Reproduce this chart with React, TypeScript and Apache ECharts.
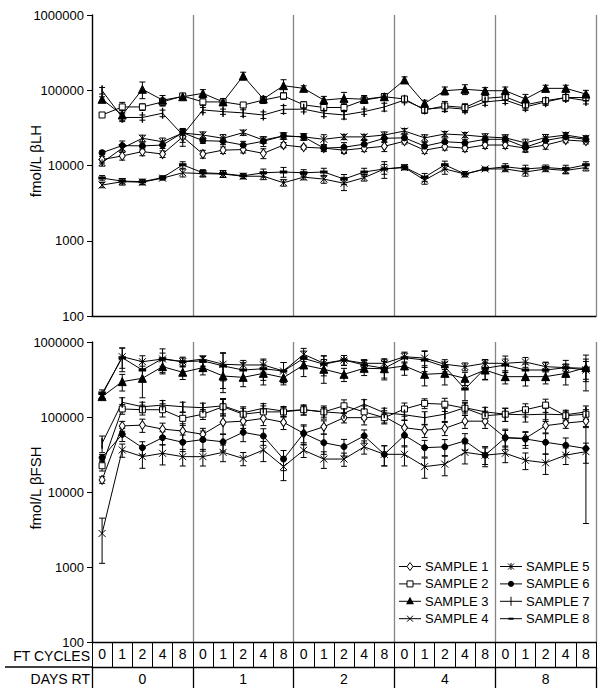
import React, { useEffect, useRef } from "react";
import * as echarts from "echarts";

// ---------- data ----------
const DAYS_RT = ["0", "1", "2", "4", "8"];
const FT_CYCLES = ["0", "1", "2", "4", "8"];
const SAMPLES = ["SAMPLE 1", "SAMPLE 2", "SAMPLE 3", "SAMPLE 4", "SAMPLE 5", "SAMPLE 6", "SAMPLE 7", "SAMPLE 8"];
const Y_TICKS = [100, 1000, 10000, 100000, 1000000];
const Y_TITLES = ["fmol/L βLH", "fmol/L βFSH"];

// fmol/L beta-LH (top panel), 25 points per sample (5 days RT x 5 FT cycles)
const LH_S1 = [12000, 13400, 15300, 14200, 24000, 14200, 16000, 16300, 14500, 18700, 17500, 17000, 16000, 17000, 18000, 21000, 16000, 17800, 17000, 18700, 18700, 17000, 18700, 21800, 21000];
const LH_S2 = [46900, 60000, 60000, 70000, 84000, 70000, 70000, 63700, 74000, 84000, 64000, 59000, 59000, 74000, 82000, 76600, 54700, 61800, 59000, 78000, 82000, 64000, 72600, 80000, 80000];
const LH_S3 = [75800, 46900, 103000, 74000, 82000, 91000, 70000, 155000, 76600, 115000, 106000, 74000, 78000, 76000, 82000, 137000, 67000, 98600, 103000, 98600, 98600, 76600, 106000, 106000, 89000];
const LH_S4 = [5500, 6100, 6000, 6800, 8000, 7800, 7700, 7200, 7200, 5900, 7000, 6600, 5800, 6900, 9000, 9400, 6400, 9000, 7700, 9000, 9000, 8200, 9000, 8600, 9400];
const LH_S5 = [10900, 17000, 23000, 20700, 27000, 25400, 23000, 27300, 21800, 24700, 24000, 22300, 24000, 24000, 25400, 28700, 23300, 26200, 25400, 24000, 23300, 20000, 23500, 25400, 23000];
const LH_S6 = [14800, 18400, 18200, 18700, 27300, 21400, 21000, 18700, 21000, 24700, 24000, 17000, 17500, 19200, 23000, 23300, 18100, 20700, 20000, 22300, 22300, 17500, 21500, 24000, 22300];
const LH_S7 = [99000, 43500, 43500, 49500, 25400, 54700, 52000, 50000, 46900, 55900, 56000, 49500, 47000, 52000, 60000, 74000, 56000, 59000, 56000, 70000, 74000, 60000, 70000, 80000, 73000];
const LH_S8 = [6800, 6200, 6100, 6900, 10200, 8000, 7800, 7300, 8000, 8200, 8000, 8200, 6600, 8200, 9000, 9500, 7000, 10200, 7700, 9000, 9600, 9000, 9400, 9000, 10200];

// relative error (SD / mean), top panel
const LH_E1 = [0.1, 0.12, 0.12, 0.1, 0.25, 0.12, 0.1, 0.1, 0.15, 0.08, 0.06, 0.08, 0.1, 0.1, 0.15, 0.08, 0.1, 0.1, 0.1, 0.1, 0.1, 0.12, 0.12, 0.08, 0.08];
const LH_E2 = [0.05, 0.15, 0.1, 0.12, 0.08, 0.1, 0.1, 0.08, 0.1, 0.1, 0.1, 0.1, 0.12, 0.1, 0.1, 0.08, 0.1, 0.15, 0.12, 0.1, 0.1, 0.12, 0.1, 0.1, 0.1];
const LH_E3 = [0.08, 0.15, 0.25, 0.15, 0.08, 0.12, 0.1, 0.12, 0.08, 0.2, 0.08, 0.12, 0.2, 0.12, 0.1, 0.1, 0.1, 0.12, 0.15, 0.1, 0.12, 0.15, 0.1, 0.1, 0.12];
const LH_E4 = [0.08, 0.1, 0.08, 0.06, 0.12, 0.1, 0.1, 0.08, 0.1, 0.1, 0.08, 0.12, 0.2, 0.1, 0.15, 0.06, 0.12, 0.15, 0.08, 0.05, 0.08, 0.12, 0.08, 0.1, 0.1];
const LH_E5 = [0.1, 0.12, 0.1, 0.12, 0.15, 0.1, 0.12, 0.08, 0.1, 0.1, 0.1, 0.15, 0.08, 0.08, 0.1, 0.08, 0.1, 0.08, 0.08, 0.1, 0.1, 0.12, 0.1, 0.08, 0.08];
const LH_E6 = [0.06, 0.15, 0.1, 0.1, 0.1, 0.08, 0.1, 0.12, 0.15, 0.1, 0.1, 0.1, 0.15, 0.12, 0.12, 0.1, 0.12, 0.12, 0.1, 0.1, 0.1, 0.12, 0.12, 0.1, 0.1];
const LH_E7 = [0.1, 0.12, 0.08, 0.1, 0.2, 0.08, 0.08, 0.1, 0.1, 0.12, 0.08, 0.1, 0.12, 0.08, 0.12, 0.08, 0.1, 0.12, 0.1, 0.1, 0.1, 0.1, 0.1, 0.1, 0.1];
const LH_E8 = [0.08, 0.08, 0.08, 0.06, 0.1, 0.1, 0.1, 0.08, 0.12, 0.15, 0.1, 0.12, 0.15, 0.12, 0.25, 0.08, 0.12, 0.12, 0.08, 0.05, 0.1, 0.12, 0.08, 0.12, 0.1];

// fmol/L beta-FSH (bottom panel)
const FSH_S1 = [14500, 76000, 78000, 69000, 65000, 58800, 85000, 88000, 96000, 85000, 60500, 74000, 98000, 98000, 101000, 72000, 66500, 70600, 88000, 88000, 53000, 52000, 76600, 83000, 88000];
const FSH_S2 = [22400, 128000, 125000, 125000, 96000, 109000, 137000, 109000, 117000, 117000, 125000, 117000, 141000, 117000, 98000, 128000, 152000, 148000, 131000, 104000, 109000, 125000, 144000, 104000, 109000];
const FSH_S3 = [187000, 296000, 328000, 469000, 395000, 455000, 352000, 338000, 382000, 335000, 494000, 433000, 371000, 446000, 440000, 480000, 371000, 382000, 328000, 423000, 345000, 345000, 345000, 382000, 455000];
const FSH_S4 = [2800, 36300, 29600, 32800, 29600, 29600, 33800, 28000, 36300, 21800, 36000, 27500, 27500, 40000, 31800, 31800, 21800, 23500, 33800, 31000, 32800, 26500, 24500, 31000, 34500];
const FSH_S5 = [196000, 637000, 546000, 593000, 546000, 593000, 505000, 494000, 494000, 410000, 685000, 520000, 575000, 520000, 520000, 637000, 610000, 505000, 469000, 520000, 520000, 541000, 469000, 455000, 423000];
const FSH_S6 = [28700, 58800, 39000, 53000, 46000, 50000, 46700, 62500, 55800, 27500, 60500, 45400, 40200, 56000, 31800, 57000, 39000, 40000, 48000, 31000, 53000, 51000, 46000, 42000, 38000];
const FSH_S7 = [44600, 157000, 137000, 144000, 137000, 133000, 141000, 114000, 131000, 120000, 125000, 117000, 112000, 148000, 114000, 107000, 98000, 109000, 133000, 117000, 109000, 107000, 109000, 107000, 117000];
const FSH_S8 = [205000, 618000, 423000, 600000, 546000, 560000, 480000, 423000, 440000, 410000, 605000, 505000, 575000, 494000, 446000, 618000, 575000, 469000, 236000, 446000, 494000, 423000, 423000, 455000, 446000];

const FSH_E1 = [0.1, 0.15, 0.2, 0.2, 0.25, 0.2, 0.3, 0.2, 0.2, 0.2, 0.25, 0.2, 0.15, 0.2, 0.2, 0.25, 0.2, 0.2, 0.2, 0.2, 0.25, 0.2, 0.2, 0.15, 0.15];
const FSH_E2 = [0.15, 0.15, 0.15, 0.2, 0.2, 0.15, 0.25, 0.2, 0.2, 0.15, 0.15, 0.15, 0.2, 0.2, 0.15, 0.2, 0.15, 0.2, 0.2, 0.15, 0.2, 0.2, 0.2, 0.15, 0.15];
const FSH_E3 = [0.08, 0.25, 0.45, 0.2, 0.2, 0.2, 0.4, 0.25, 0.3, 0.2, 0.3, 0.35, 0.2, 0.2, 0.25, 0.25, 0.3, 0.3, 0.2, 0.25, 0.2, 0.25, 0.2, 0.3, 0.3];
const FSH_E4 = [0.6, 0.2, 0.3, 0.3, 0.25, 0.25, 0.25, 0.2, 0.3, 0.35, 0.2, 0.25, 0.2, 0.2, 0.3, 0.3, 0.3, 0.3, 0.3, 0.3, 0.25, 0.25, 0.3, 0.25, 0.3];
const FSH_E5 = [0.1, 0.3, 0.2, 0.2, 0.12, 0.1, 0.4, 0.15, 0.2, 0.3, 0.2, 0.25, 0.15, 0.12, 0.15, 0.15, 0.25, 0.15, 0.12, 0.12, 0.25, 0.15, 0.15, 0.12, 0.3];
const FSH_E6 = [0.1, 0.2, 0.2, 0.2, 0.25, 0.3, 0.25, 0.25, 0.25, 0.3, 0.3, 0.3, 0.25, 0.2, 0.3, 0.3, 0.25, 0.25, 0.25, 0.25, 0.3, 0.25, 0.3, 0.25, 0.9];
const FSH_E7 = [0.25, 0.15, 0.15, 0.15, 0.15, 0.15, 0.25, 0.2, 0.15, 0.15, 0.15, 0.2, 0.15, 0.15, 0.15, 0.15, 0.2, 0.2, 0.15, 0.15, 0.2, 0.2, 0.2, 0.15, 0.2];
const FSH_E8 = [0.12, 0.35, 0.3, 0.35, 0.15, 0.15, 0.5, 0.25, 0.3, 0.3, 0.25, 0.3, 0.15, 0.15, 0.3, 0.15, 0.3, 0.15, 0.3, 0.3, 0.2, 0.2, 0.25, 0.25, 0.5];

const LH_VALUES = [LH_S1, LH_S2, LH_S3, LH_S4, LH_S5, LH_S6, LH_S7, LH_S8];
const LH_ERRORS = [LH_E1, LH_E2, LH_E3, LH_E4, LH_E5, LH_E6, LH_E7, LH_E8];
const FSH_VALUES = [FSH_S1, FSH_S2, FSH_S3, FSH_S4, FSH_S5, FSH_S6, FSH_S7, FSH_S8];
const FSH_ERRORS = [FSH_E1, FSH_E2, FSH_E3, FSH_E4, FSH_E5, FSH_E6, FSH_E7, FSH_E8];

// ---------- styles ----------
const FONT = "'Liberation Sans', Arial, Helvetica, sans-serif";
const SYMBOLS: any[] = [
  { symbol: "diamond", size: [6, 9], fill: "#ffffff" },
  { symbol: "rect", size: 6, fill: "#ffffff" },
  { symbol: "triangle", size: 8, fill: "#000000" },
  { symbol: "path://M0,0L10,10M10,0L0,10", size: 7, fill: "#000000" },
  { symbol: "path://M0,0L10,10M10,0L0,10M5,0L5,10", size: 7, fill: "#000000" },
  { symbol: "circle", size: 6, fill: "#000000" },
  { symbol: "rect", size: [1, 8], fill: "#000000" },
  { symbol: "rect", size: [5, 2], fill: "#000000" },
];

const CATS = DAYS_RT.flatMap((d) => FT_CYCLES.map((c) => `${d}|${c}`));

function errorSeries(name: string, values: number[], errs: number[], xi: number, yi: number) {
  return {
    type: "custom",
    name,
    xAxisIndex: xi,
    yAxisIndex: yi,
    z: 2,
    silent: true,
    encode: { x: 0, y: 1 },
    data: values.map((v, i) => [i, v, errs[i]]),
    renderItem: (params: any, api: any) => {
      const i = api.value(0);
      const v = api.value(1);
      const e = api.value(2);
      const hi = api.coord([i, v * (1 + e)]);
      const lo = api.coord([i, Math.max(v * (1 - e), 100)]);
      const x = hi[0];
      const w = 3;
      const st = { stroke: "#000", lineWidth: 1 };
      return {
        type: "group",
        children: [
          { type: "line", shape: { x1: x, y1: hi[1], x2: x, y2: lo[1] }, style: st },
          { type: "line", shape: { x1: x - w, y1: hi[1], x2: x + w, y2: hi[1] }, style: st },
          { type: "line", shape: { x1: x - w, y1: lo[1], x2: x + w, y2: lo[1] }, style: st },
        ],
      };
    },
  };
}

function lineSeries(k: number, values: number[], xi: number, yi: number) {
  const s = SYMBOLS[k];
  return {
    type: "line",
    name: SAMPLES[k],
    xAxisIndex: xi,
    yAxisIndex: yi,
    z: 3,
    data: values,
    symbol: s.symbol,
    symbolSize: s.size,
    showAllSymbol: true,
    lineStyle: { color: "#000", width: 1 },
    itemStyle: { color: s.fill, borderColor: "#000", borderWidth: 1 },
    emphasis: { disabled: true },
  };
}

function yAxis(gridIndex: number) {
  return {
    type: "log",
    logBase: 10,
    gridIndex,
    min: 100,
    max: 1000000,
    axisLine: { show: true, lineStyle: { color: "#000", width: 1.3 } },
    axisTick: { show: true, length: 5, lineStyle: { color: "#000" } },
    axisLabel: {
      fontSize: 13,
      lineHeight: 12,
      color: "#000",
      fontFamily: FONT,
      margin: 8,
      formatter: (v: number) => (Y_TICKS.includes(Math.round(v)) ? String(Math.round(v)) : ""),
    },
    splitLine: { show: false },
    minorTick: { show: false },
  };
}

// legend marker drawn as graphic elements (style only)
function legendMarker(k: number, cx: number, cy: number): any[] {
  const st = { stroke: "#000", lineWidth: 1 };
  switch (k) {
    case 0:
      return [{ type: "polygon", shape: { points: [[cx, cy - 4], [cx + 3, cy], [cx, cy + 4], [cx - 3, cy]] }, style: { fill: "#fff", ...st } }];
    case 1:
      return [{ type: "rect", shape: { x: cx - 3, y: cy - 3, width: 6, height: 6 }, style: { fill: "#fff", ...st } }];
    case 2:
      return [{ type: "polygon", shape: { points: [[cx, cy - 4.5], [cx + 4, cy + 3], [cx - 4, cy + 3]] }, style: { fill: "#000" } }];
    case 3:
      return [
        { type: "line", shape: { x1: cx - 3, y1: cy - 3, x2: cx + 3, y2: cy + 3 }, style: st },
        { type: "line", shape: { x1: cx + 3, y1: cy - 3, x2: cx - 3, y2: cy + 3 }, style: st },
      ];
    case 4:
      return [
        { type: "line", shape: { x1: cx - 3, y1: cy - 3, x2: cx + 3, y2: cy + 3 }, style: st },
        { type: "line", shape: { x1: cx + 3, y1: cy - 3, x2: cx - 3, y2: cy + 3 }, style: st },
        { type: "line", shape: { x1: cx, y1: cy - 3.5, x2: cx, y2: cy + 3.5 }, style: st },
      ];
    case 5:
      return [{ type: "circle", shape: { cx, cy, r: 3 }, style: { fill: "#000" } }];
    case 6:
      return [{ type: "line", shape: { x1: cx, y1: cy - 4.5, x2: cx, y2: cy + 4.5 }, style: st }];
    default:
      return [{ type: "rect", shape: { x: cx - 2.5, y: cy - 1, width: 5, height: 2 }, style: { fill: "#000" } }];
  }
}

const groupSplit = { show: true, interval: 0, lineStyle: { color: "#858585", width: 1.3 } };

export default function App() {
  const ref = useRef<HTMLDivElement>(null);
  useEffect(() => {
    document.body.style.margin = "0";
    if (!ref.current) return;
    const chart = echarts.init(ref.current, null, { renderer: "svg" });
    const series: any[] = [];
    LH_VALUES.forEach((vals, k) => {
      series.push(errorSeries("lh-err-" + k, vals, LH_ERRORS[k], 0, 0));
      series.push(lineSeries(k, vals, 0, 0));
    });
    FSH_VALUES.forEach((vals, k) => {
      series.push(errorSeries("fsh-err-" + k, vals, FSH_ERRORS[k], 2, 1));
      series.push(lineSeries(k, vals, 2, 1));
    });

    const legendGraphics: any[] = [];
    SAMPLES.forEach((name, k) => {
      const col = k < 4 ? 0 : 1;
      const row = k % 4;
      const x0 = col === 0 ? 399 : 500;
      const y = 566.5 + row * 17.4;
      legendGraphics.push({ type: "line", shape: { x1: x0, y1: y, x2: x0 + 22, y2: y }, style: { stroke: "#000", lineWidth: 1 } });
      legendMarker(k, x0 + 11, y).forEach((m) => legendGraphics.push(m));
      legendGraphics.push({
        type: "text",
        x: x0 + 26,
        y,
        style: { text: name, font: `13px ${FONT}`, fill: "#000", align: "left", verticalAlign: "middle" },
      });
    });

    const titleGraphics = Y_TITLES.map((t, i) => ({
      type: "text",
      x: 35,
      y: i === 0 ? 161 : 488,
      rotation: Math.PI / 2,
      style: { text: t, font: `15px ${FONT}`, fill: "#000", align: "center", verticalAlign: "middle" },
    }));

    chart.setOption({
      animation: false,
      backgroundColor: "#fff",
      textStyle: { fontFamily: FONT },
      grid: [
        { left: 92, right: 8, top: 15, height: 301 },
        { left: 92, right: 8, top: 342, height: 300 },
      ],
      xAxis: [
        {
          type: "category",
          gridIndex: 0,
          data: CATS,
          boundaryGap: true,
          axisLine: { show: true, lineStyle: { color: "#000", width: 1.3 } },
          axisTick: { show: false },
          axisLabel: { show: false },
        },
        {
          type: "category",
          gridIndex: 0,
          data: DAYS_RT,
          position: "bottom",
          axisLine: { show: false },
          axisTick: { show: false },
          axisLabel: { show: false },
          splitLine: groupSplit,
        },
        {
          type: "category",
          gridIndex: 1,
          data: CATS,
          boundaryGap: true,
          axisLine: { show: true, lineStyle: { color: "#000", width: 1.3 } },
          axisTick: { show: true, interval: 0, length: 25, lineStyle: { color: "#000", width: 1 } },
          axisLabel: {
            show: true,
            interval: 0,
            fontSize: 14,
            color: "#000",
            fontFamily: FONT,
            margin: 5,
            formatter: (v: string) => v.split("|")[1],
          },
        },
        {
          type: "category",
          gridIndex: 1,
          data: DAYS_RT,
          position: "bottom",
          offset: 25,
          axisLine: { show: true, lineStyle: { color: "#000", width: 1.3 } },
          axisTick: { show: true, interval: 0, length: 21, lineStyle: { color: "#000", width: 1.3 } },
          axisLabel: { show: true, interval: 0, fontSize: 14, color: "#000", fontFamily: FONT, margin: 5 },
          splitLine: groupSplit,
        },
      ],
      yAxis: [yAxis(0), yAxis(1)],
      graphic: [
        { type: "line", shape: { x1: 5, y1: 667, x2: 92, y2: 667 }, style: { stroke: "#000", lineWidth: 1.3 } },
        {
          type: "text",
          x: 90,
          y: 656,
          style: { text: "FT CYCLES", font: `14px ${FONT}`, fill: "#000", align: "right", verticalAlign: "middle" },
        },
        {
          type: "text",
          x: 90,
          y: 679,
          style: { text: "DAYS RT", font: `14px ${FONT}`, fill: "#000", align: "right", verticalAlign: "middle" },
        },
        ...titleGraphics,
        ...legendGraphics,
      ],
      series,
    });
    return () => chart.dispose();
  }, []);
  return <div ref={ref} style={{ width: 604, height: 696 }} />;
}
